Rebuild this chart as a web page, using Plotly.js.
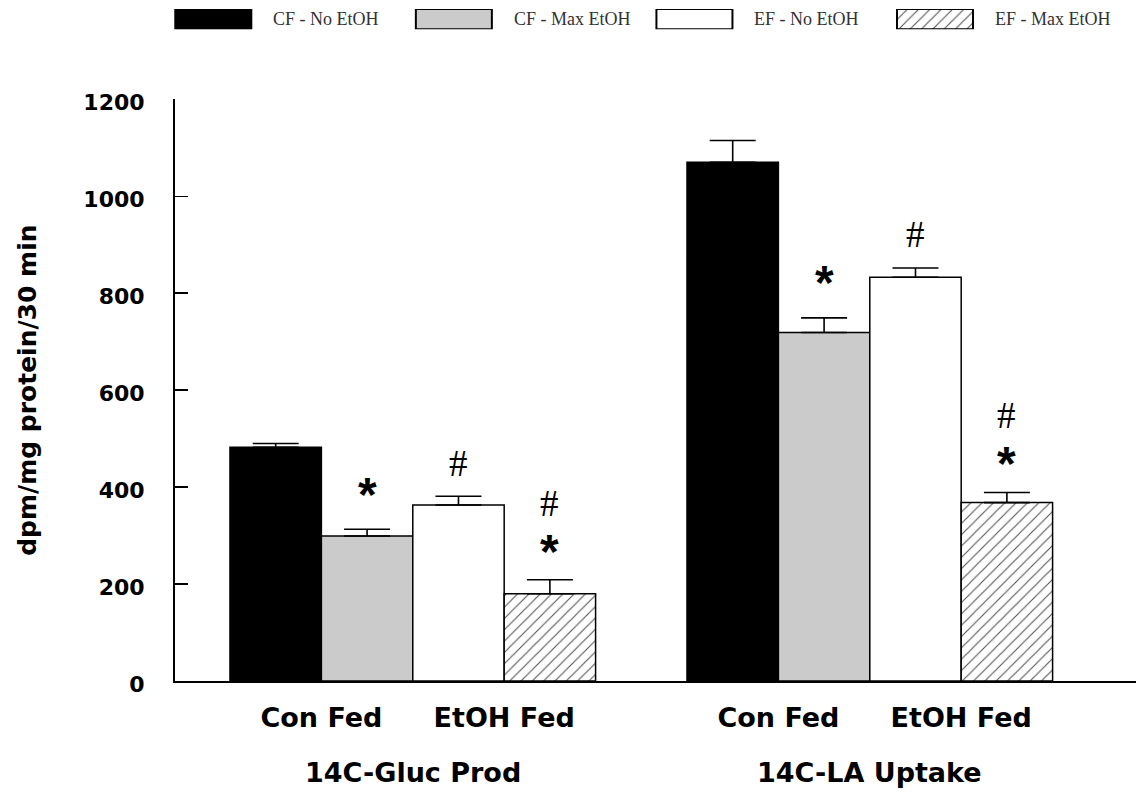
<!DOCTYPE html>
<html>
<head>
<meta charset="utf-8">
<script src="https://cdn.plot.ly/plotly-3.0.1.min.js"></script>
<style>html,body{margin:0;padding:0;background:#fff;}#chart{width:1138px;height:792px;}</style>
</head>
<body>
<div id="chart"></div>
<script>
// ---- data ----
const groups = ['14C-Gluc Prod', '14C-LA Uptake'];
const subLabels = ['Con Fed', 'EtOH Fed'];
const seriesNames = ['CF - No EtOH', 'CF - Max EtOH', 'EF - No EtOH', 'EF - Max EtOH'];
const cfNoEtOH = [482, 1070];
const cfNoEtOHErr = [8, 45];
const cfMaxEtOH = [299, 719];
const cfMaxEtOHErr = [14, 30];
const efNoEtOH = [363, 833];
const efNoEtOHErr = [18, 19];
const efMaxEtOH = [180, 368];
const efMaxEtOHErr = [29, 21];
// significance marks, listed top to bottom
const cfNoEtOHSig = ['', ''];
const cfMaxEtOHSig = ['*', '*'];
const efNoEtOHSig = ['#', '#'];
const efMaxEtOHSig = ['#*', '#*'];
const yTicks = [0, 200, 400, 600, 800, 1000, 1200];

// ---- styles ----
const seriesValues = [cfNoEtOH, cfMaxEtOH, efNoEtOH, efMaxEtOH];
const seriesErr = [cfNoEtOHErr, cfMaxEtOHErr, efNoEtOHErr, efMaxEtOHErr];
const seriesSig = [cfNoEtOHSig, cfMaxEtOHSig, efNoEtOHSig, efMaxEtOHSig];
const fills = ['#000000', '#cbcbcb', '#ffffff', '#ffffff'];
const patterns = ['', '', '', '/'];
const BARGAP = 0.2;
const barW = (1 - BARGAP) / seriesNames.length;
const gx = groups.map((g, i) => i);
const sansBold = {family: 'DejaVu Sans', weight: 'bold', color: '#000'};
const starFont = {family: 'Liberation Sans', weight: 'bold', size: 48, color: '#000'};
const hashFont = {family: 'Liberation Serif', size: 37, color: '#000'};
function patternFor(i) {
  return patterns[i] ? {shape: patterns[i], size: 8, solidity: 0.14, fgcolor: '#555', bgcolor: '#fff', fillmode: 'replace'} : {shape: ''};
}
function glyphSpan(ch) {
  return ch === '*'
    ? '<span style="font-family:Liberation Sans;font-weight:bold;font-size:48px">*</span>'
    : '<span style="font-family:Liberation Serif;font-size:37px">#</span>';
}

const traces = seriesNames.map((name, i) => ({
  type: 'bar',
  name: name,
  x: gx,
  y: seriesValues[i],
  marker: {
    color: fills[i],
    line: {color: '#000', width: 1.5},
    pattern: patternFor(i)
  },
  error_y: {type: 'data', symmetric: false, array: seriesErr[i], arrayminus: seriesErr[i].map(() => 0),
            color: '#000', thickness: 1.6, width: 23},
  showlegend: false,
  hoverinfo: 'skip'
}));

// custom legend swatches (drawn as bars on a small hidden axis)
seriesNames.forEach((name, i) => {
  traces.push({
    type: 'bar',
    x: [i],
    y: [1],
    width: 0.316,
    offsetgroup: 'legend',
    xaxis: 'x3', yaxis: 'y3',
    marker: {
      color: fills[i],
      line: {color: '#000', width: 2},
      pattern: patternFor(i)
    },
    showlegend: false,
    hoverinfo: 'skip'
  });
});

const annotations = [];
// legend texts
seriesNames.forEach((n, i) => {
  annotations.push({xref: 'x3', yref: 'y3', x: i, y: 0.5, xshift: 58, xanchor: 'left', yanchor: 'middle',
    text: n, showarrow: false, font: {family: 'Liberation Serif', size: 18, color: '#333'}});
});
// group labels
groups.forEach((g, i) => {
  annotations.push({xref: 'x', yref: 'paper', x: i, y: -0.136, xanchor: 'center', yanchor: 'middle',
    text: g, showarrow: false, font: Object.assign({size: 27}, sansBold)});
});
// significance marks
seriesSig.forEach((sigs, s) => {
  sigs.forEach((sig, g) => {
    if (!sig) return;
    const xc = g + (s - (seriesNames.length - 1) / 2) * barW;
    const top = seriesValues[s][g] + seriesErr[s][g];
    if (sig.length === 1) {
      annotations.push({xref: 'x', yref: 'y', x: xc, y: top, yshift: sig === '*' ? 35 : 33,
        xanchor: 'center', yanchor: 'middle', text: sig, showarrow: false,
        font: sig === '*' ? starFont : hashFont});
    } else {
      annotations.push({xref: 'x', yref: 'y', x: xc, y: top, yshift: 0,
        xanchor: 'center', yanchor: 'bottom', showarrow: false,
        text: sig.split('').map(glyphSpan).join('<br>'),
        font: {family: 'Liberation Serif', size: 40, color: '#000'}});
    }
  });
});

const tickVals = [];
const tickText = [];
gx.forEach(g => {
  subLabels.forEach((lab, j) => {
    tickVals.push(g + (j === 0 ? -1 : 1) * barW);
    tickText.push(lab);
  });
});

const layout = {
  width: 1138, height: 792,
  margin: {l: 60, r: 2, t: 5, b: 111},
  paper_bgcolor: '#fff', plot_bgcolor: '#fff',
  barmode: 'group', bargap: BARGAP, bargroupgap: 0,
  showlegend: false,
  xaxis: {
    domain: [0.10688, 1], range: [-0.5203, 1.5825],
    showline: true, linecolor: '#000', linewidth: 2,
    showgrid: false, zeroline: false,
    tickmode: 'array', tickvals: tickVals, ticktext: tickText, ticks: '',
    ticklabelstandoff: 12,
    tickfont: Object.assign({size: 27}, sansBold)
  },
  yaxis: {
    domain: [0, 0.8605], range: [0, 1200],
    tickmode: 'array', tickvals: yTicks,
    ticks: 'inside', ticklen: 13, tickwidth: 1.5, tickcolor: '#000',
    showline: true, linecolor: '#000', linewidth: 2,
    showgrid: false, zeroline: false,
    ticklabelstandoff: 24,
    ticklabelshift: 3,
    tickfont: Object.assign({size: 22}, sansBold),
    title: {text: 'dpm/mg protein/30 min', font: Object.assign({size: 25}, sansBold), standoff: 40}
  },
  xaxis3: {domain: [0.03067, 0.925], range: [-0.5, 3.5], visible: false, anchor: 'y3', fixedrange: true},
  yaxis3: {domain: [0.9641, 0.9941], range: [0, 1], visible: false, anchor: 'x3', fixedrange: true},
  annotations: annotations
};

Plotly.newPlot('chart', traces, layout, {displayModeBar: false, staticPlot: true});
</script>
</body>
</html>
